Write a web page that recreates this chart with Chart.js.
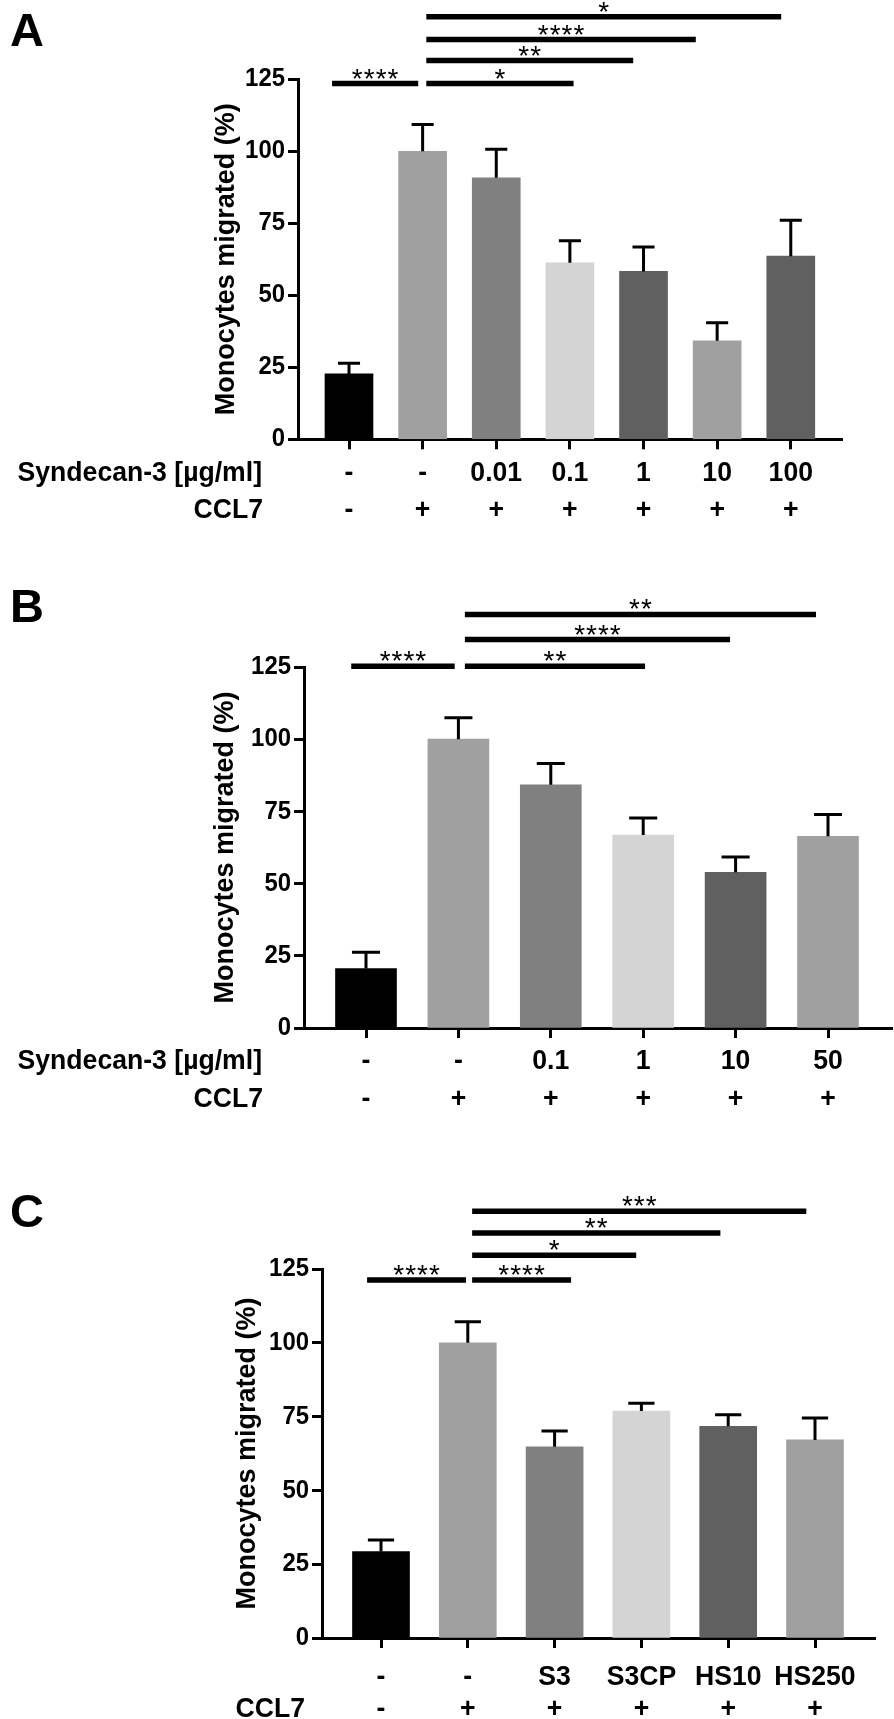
<!DOCTYPE html>
<html>
<head>
<meta charset="utf-8">
<script src="https://cdn.jsdelivr.net/npm/chart.js@4.4.0/dist/chart.umd.min.js"></script>
<style>
  html, body { margin: 0; padding: 0; background: #fff; }
  body { width: 894px; height: 1719px; position: relative; overflow: hidden; }
  canvas { position: absolute; left: 0; }
</style>
</head>
<body>
<canvas id="chartA" width="894" height="540" style="top:0px"></canvas>
<canvas id="chartB" width="894" height="585" style="top:540px"></canvas>
<canvas id="chartC" width="894" height="594" style="top:1125px"></canvas>
<script>
const yTickValues = [0, 25, 50, 75, 100, 125];
const yTitle = "Monocytes migrated (%)";

// A
const doseA = ["-", "-", "0.01", "0.1", "1", "10", "100"];
const ccl7A = ["-", "+", "+", "+", "+", "+", "+"];
const meanA = [22.7, 100, 90.8, 61.3, 58.3, 34.2, 63.6];
const semA = [3.7, 9.3, 9.9, 7.6, 8.5, 6.3, 12.5];
const sigFromA = [-0.23, 1.05, 1.05, 1.05, 1.05];
const sigToA = [0.94, 3.05, 3.86, 4.71, 5.87];
const sigLevelA = [123.5, 123.5, 131.5, 138.8, 146.7];
const sigStarsA = ["****", "*", "**", "****", "*"];

// B
const doseB = ["-", "-", "0.1", "1", "10", "50"];
const ccl7B = ["-", "+", "+", "+", "+", "+"];
const meanB = [20.6, 100, 84.2, 66.8, 53.9, 66.4];
const semB = [5.6, 7.4, 7.4, 5.9, 5.3, 7.5];
const sigFromB = [-0.16, 1.07, 1.07, 1.07];
const sigToB = [0.96, 3.02, 3.94, 4.87];
const sigLevelB = [125.3, 125.3, 134.5, 143.2];
const sigStarsB = ["****", "**", "****", "**"];

// C
const groupC = ["-", "-", "S3", "S3CP", "HS10", "HS250"];
const ccl7C = ["-", "+", "+", "+", "+", "+"];
const meanC = [29.3, 100, 64.8, 76.9, 71.7, 67.1];
const semC = [3.9, 7.1, 5.3, 2.6, 3.9, 7.4];
const sigFromC = [-0.16, 1.05, 1.05, 1.05, 1.05];
const sigToC = [0.98, 2.19, 2.94, 3.91, 4.90];
const sigLevelC = [121.3, 121.3, 129.7, 137.2, 144.6];
const sigStarsC = ["****", "****", "*", "**", "***"];

const FONT = '"Liberation Sans", Arial, sans-serif';
const greysA = ["#000000", "#a0a0a0", "#808080", "#d4d4d4", "#606060", "#a0a0a0", "#606060"];
const greys = ["#000000", "#a0a0a0", "#808080", "#d4d4d4", "#606060", "#a0a0a0"];

Chart.defaults.font.family = FONT;

// text with a slight horizontal squeeze, the figure uses a narrow bold face
function txt(ctx, s, x, y, size, k, align, weight) {
  ctx.save();
  ctx.font = weight + " " + size + "px " + FONT;
  ctx.textAlign = align;
  ctx.textBaseline = "middle";
  ctx.translate(x, y);
  ctx.scale(k, 1);
  ctx.fillText(s, 0, 0);
  ctx.restore();
}

function overlay(p) {
  return {
    id: "overlay",
    afterDraw(chart) {
      const ctx = chart.ctx, xs = chart.scales.x, ys = chart.scales.y, area = chart.chartArea;
      ctx.save();
      ctx.strokeStyle = "#000";
      ctx.fillStyle = "#000";

      // error bars (upper only)
      ctx.lineWidth = 3;
      const cap = p.barW * 0.23;
      p.mean.forEach((m, i) => {
        const x = xs.getPixelForValue(i);
        const y0 = ys.getPixelForValue(m);
        const y1 = ys.getPixelForValue(m + p.sem[i]);
        ctx.beginPath();
        ctx.moveTo(x, y0); ctx.lineTo(x, y1);
        ctx.moveTo(x - cap, y1); ctx.lineTo(x + cap, y1);
        ctx.stroke();
      });

      // significance bars, stars sit just above the line
      ctx.lineWidth = 5.5;
      ctx.font = "28px " + FONT;
      ctx.textAlign = "center";
      ctx.textBaseline = "alphabetic";
      ctx.letterSpacing = "1px";
      const starDesc = ctx.measureText("*").actualBoundingBoxDescent;
      p.sigFrom.forEach((f, i) => {
        const x1 = xs.getPixelForValue(f), x2 = xs.getPixelForValue(p.sigTo[i]);
        const y = ys.getPixelForValue(p.sigLevel[i]);
        ctx.beginPath(); ctx.moveTo(x1, y); ctx.lineTo(x2, y); ctx.stroke();
        ctx.fillText(p.sigStars[i], (x1 + x2) / 2 + 0.5, y - 5 - starDesc);
      });
      ctx.letterSpacing = "0px";

      // y tick labels
      yTickValues.forEach(v => txt(ctx, String(v), area.left - 13, ys.getPixelForValue(v), 26, 0.92, "right", "bold"));

      // label rows under the axis
      p.row1.forEach((t, i) => txt(ctx, t, xs.getPixelForValue(i), p.row1Y - p.offset, 28, 0.95, "center", "bold"));
      p.row2.forEach((t, i) => txt(ctx, t, xs.getPixelForValue(i), p.row2Y - p.offset, 28, 0.95, "center", "bold"));
      if (p.row1Name) txt(ctx, p.row1Name, p.row1Right, p.row1Y - p.offset, 28, 0.95, "right", "bold");
      txt(ctx, "CCL7", p.row2Right, p.row2Y - p.offset, 28, 0.95, "right", "bold");

      // y title
      ctx.save();
      ctx.translate(p.titleX, (area.top + area.bottom) / 2);
      ctx.rotate(-Math.PI / 2);
      txt(ctx, yTitle, 0, 0, 27, 1, "center", "bold");
      ctx.restore();

      // panel letter
      txt(ctx, p.letter, 10, p.letterY - p.offset, 47, 1, "left", "bold");
      ctx.restore();
    }
  };
}

function makePanel(id, p) {
  const canvas = document.getElementById(id);
  const W = canvas.width, H = canvas.height;
  const axisStyle = {
    grid: { display: true, offset: false, drawOnChartArea: false, drawTicks: true, tickLength: 10, tickWidth: 3, tickColor: "#000" },
    border: { display: true, color: "#000", width: 3 }
  };
  return new Chart(canvas, {
    type: "bar",
    data: {
      datasets: [{
        data: p.mean.map((v, i) => ({ x: i, y: v })),
        backgroundColor: p.colors,
        barThickness: p.barW,
        borderWidth: 0
      }]
    },
    options: {
      responsive: false,
      animation: false,
      layout: { padding: { top: p.top - p.offset, right: W - p.right, bottom: 0, left: 0 } },
      plugins: { legend: { display: false }, tooltip: { enabled: false } },
      scales: {
        x: {
          type: "linear",
          offset: false,
          min: (p.left - p.c0) / p.step,
          max: (p.right - p.c0) / p.step,
          afterBuildTicks: s => { s.ticks = p.mean.map((_, i) => ({ value: i })); },
          afterFit: s => { s.height = H - (p.bottom - p.offset); },
          ticks: { display: false },
          ...axisStyle
        },
        y: {
          min: 0,
          max: 125,
          afterBuildTicks: s => { s.ticks = yTickValues.map(v => ({ value: v })); },
          afterFit: s => { s.width = p.left; },
          ticks: { display: false },
          ...axisStyle
        }
      }
    },
    plugins: [overlay(p)]
  });
}

makePanel("chartA", {
  offset: 0, letter: "A", letterY: 33,
  left: 298, right: 842, top: 79.3, bottom: 439.3, c0: 349, step: 73.63, barW: 48,
  mean: meanA, sem: semA, colors: greysA,
  sigFrom: sigFromA, sigTo: sigToA, sigLevel: sigLevelA, sigStars: sigStarsA,
  row1: doseA, row2: ccl7A, row1Name: "Syndecan-3 [\u00b5g/ml]",
  row1Y: 473, row2Y: 510, row1Right: 262, row2Right: 263, titleX: 227
});

makePanel("chartB", {
  offset: 540, letter: "B", letterY: 609,
  left: 304, right: 892, top: 667, bottom: 1028, c0: 366, step: 92.4, barW: 61,
  mean: meanB, sem: semB, colors: greys,
  sigFrom: sigFromB, sigTo: sigToB, sigLevel: sigLevelB, sigStars: sigStarsB,
  row1: doseB, row2: ccl7B, row1Name: "Syndecan-3 [\u00b5g/ml]",
  row1Y: 1061, row2Y: 1099, row1Right: 262, row2Right: 263, titleX: 226
});

makePanel("chartC", {
  offset: 1125, letter: "C", letterY: 1214,
  left: 322, right: 875, top: 1269, bottom: 1638, c0: 381, step: 86.8, barW: 57,
  mean: meanC, sem: semC, colors: greys,
  sigFrom: sigFromC, sigTo: sigToC, sigLevel: sigLevelC, sigStars: sigStarsC,
  row1: groupC, row2: ccl7C, row1Name: null,
  row1Y: 1677, row2Y: 1709, row1Right: 0, row2Right: 305, titleX: 248
});
</script>
</body>
</html>
